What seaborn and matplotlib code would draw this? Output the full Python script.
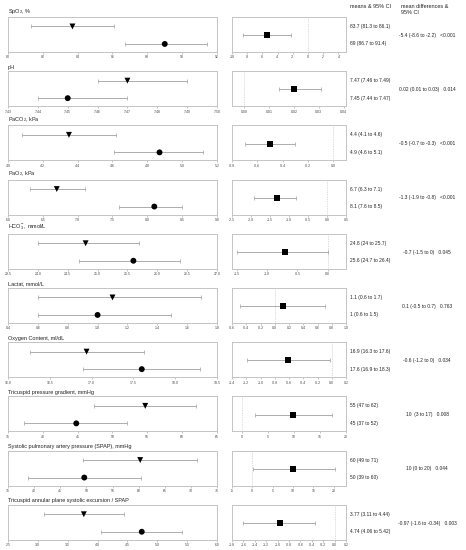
import numpy as np
import pandas as pd
import matplotlib
matplotlib.use("Agg")
import matplotlib.pyplot as plt
import seaborn as sns

titles = ["SpO$_2$, %", "pH", "PaCO$_2$, kPa", "PaO$_2$, kPa", "HCO$_3^-$, mmol/L",
          "Lactat, mmol/L", "Oxygen Content, ml/dL", "Tricuspid pressure gradient, mmHg",
          "Systolic pulmonary artery pressure (SPAP), mmHg",
          "Tricuspid annular plane systolic excursion / SPAP"]

g1_mean = [83.7, 7.47, 4.35, 6.70, 24.8, 1.10, 16.94, 54.7, 60.3, 3.77]
g1_lo = [81.3, 7.46, 4.08, 6.31, 24.0, 0.60, 16.26, 47.3, 49.3, 3.10]
g1_hi = [86.1, 7.49, 4.62, 7.10, 25.7, 1.69, 17.63, 62.0, 71.2, 4.44]
g2_mean = [89.0, 7.45, 4.87, 8.10, 25.6, 1.00, 17.60, 44.8, 49.6, 4.74]
g2_lo = [86.7, 7.44, 4.61, 7.60, 24.69, 0.60, 16.90, 37.3, 38.8, 4.05]
g2_hi = [91.4, 7.47, 5.12, 8.50, 26.38, 1.49, 18.30, 52.1, 60.4, 5.41]

d_mean = [-5.4, 0.020, -0.50, -1.32, -0.70, 0.11, -0.62, 9.9, 10.1, -0.96]
d_lo = [-8.6, 0.014, -0.70, -1.92, -1.50, -0.49, -1.19, 2.6, 0.2, -1.60]
d_hi = [-2.2, 0.031, -0.30, -0.82, 0.00, 0.71, -0.03, 17.3, 20.2, -0.34]

g1_text = ["83.7 (81.3 to 86.1)", "7.47 (7.46 to 7.49)", "4.4 (4.1 to 4.6)", "6.7 (6.3 to 7.1)",
           "24.8 (24 to 25.7)", "1.1 (0.6 to 1.7)", "16.9 (16.3 to 17.6)", "55 (47 to 62)",
           "60 (49 to 71)", "3.77 (3.11 to 4.44)"]
g2_text = ["89 (86.7 to 91.4)", "7.45 (7.44 to 7.47)", "4.9 (4.6 to 5.1)", "8.1 (7.6 to 8.5)",
           "25.6 (24.7 to 26.4)", "1 (0.6 to 1.5)", "17.6 (16.9 to 18.3)", "45 (37 to 52)",
           "50 (39 to 60)", "4.74 (4.06 to 5.42)"]
d_text = ["-5.4 (-8.6 to -2.2)", "0.02 (0.01 to 0.03)", "-0.5 (-0.7 to -0.3)", "-1.3 (-1.9 to -0.8)",
          "-0.7 (-1.5 to 0)", "0.1 (-0.5 to 0.7)", "-0.6 (-1.2 to 0)", "10  (3 to 17)",
          "10 (0 to 20)", "-0.97 (-1.6 to -0.34)"]
p_text = ["<0.001", "0.014", "<0.001", "<0.001", "0.045", "0.763", "0.034", "0.008", "0.044", "0.003"]

left_lim = [(80, 92), (7.43, 7.50), (4.0, 5.2), (6.0, 9.0), (23.5, 27.0), (0.4, 1.8),
            (16.0, 18.5), (35, 65), (35, 75), (2.5, 6.0)]
left_ticks = [(80, 92, 2), (7.43, 7.50, 0.01), (4.0, 5.2, 0.2), (6.0, 9.0, 0.5), (23.5, 27.0, 0.5),
              (0.4, 1.8, 0.2), (16.0, 18.5, 0.5), (35, 65, 5), (35, 75, 5), (2.5, 6.0, 0.5)]
left_fmt = ["%d", "%.2f", "%.1f", "%.1f", "%.1f", "%.1f", "%.1f", "%d", "%d", "%.1f"]
right_lim = [(-10, 5), (-0.005, 0.041), (-0.8, 0.1), (-2.5, 0.5), (-1.58, 0.3), (-0.6, 1.0),
             (-1.4, 0.2), (-1.9, 20), (-5, 23), (-1.8, 0.2)]
right_ticks = [(-10, 4, 2), (0.0, 0.04, 0.01), (-0.8, 0.0, 0.2), (-2.5, 0.5, 0.5), (-1.5, 0.0, 0.5),
               (-0.6, 1.0, 0.2), (-1.4, 0.2, 0.2), (0, 20, 5), (-5, 20, 5), (-1.8, 0.2, 0.2)]
right_fmt = ["%d", "%.2f", "%.1f", "%.1f", "%.1f", "%.1f", "%.1f", "%d", "%d", "%.1f"]

sns.set_theme(style="white")
plt.rcParams['font.family'] = ['Liberation Sans', 'DejaVu Sans']
plt.rcParams['mathtext.fontset'] = 'custom'
plt.rcParams['mathtext.rm'] = 'Liberation Sans'
plt.rcParams['mathtext.it'] = 'Liberation Sans:italic'

W, H = 466, 550
fig = plt.figure(figsize=(W / 100, H / 100), dpi=100)

spine_c = '#c4c4c4'
err_c = '#a0a0a0'
ylim = (-0.46, 1.54)
title_fs = 4.0
txt_fs = 3.5
tick_fs = 2.5

def fmt_ticks(spec, fmt):
    a, b, s = spec
    n = int(round((b - a) / s)) + 1
    vals = [a + i * s for i in range(n)]
    labs = []
    for v in vals:
        if fmt == "%d":
            labs.append("%d" % int(round(v)))
        else:
            labs.append(fmt % (0.0 if abs(v) < 1e-12 else v))
    return vals, labs

def style_ax(ax):
    for sp in ax.spines.values():
        sp.set_color(spine_c)
        sp.set_linewidth(0.7)
        sp.set_visible(True)
    ax.set_yticks([])
    ax.tick_params(axis='x', labelsize=tick_fs, length=1.5, width=0.4, color='#999999',
                   pad=1.0, labelcolor='#444444', bottom=True)
    ax.set_ylim(*ylim)
    ax.set_xlabel("")
    ax.set_ylabel("")
    ax.grid(False)

x0L, x1L = 8, 217
x0R, x1R = 232, 346
pitch = 54.2
box_h = 35

for i in range(10):
    top = 17 + pitch * i
    bot = top + box_h
    # left panel
    axL = fig.add_axes([x0L / W, 1 - bot / H, (x1L - x0L) / W, box_h / H])
    df = pd.DataFrame({"x": [g1_mean[i], g2_mean[i]], "y": [1, 0], "grp": ["a", "b"]})
    axL.errorbar([g1_mean[i]], [1], xerr=[[g1_mean[i] - g1_lo[i]], [g1_hi[i] - g1_mean[i]]],
                 fmt='none', ecolor=err_c, elinewidth=0.6, capsize=1.3, capthick=0.5)
    axL.errorbar([g2_mean[i]], [0], xerr=[[g2_mean[i] - g2_lo[i]], [g2_hi[i] - g2_mean[i]]],
                 fmt='none', ecolor=err_c, elinewidth=0.6, capsize=1.3, capthick=0.5)
    sns.scatterplot(data=df, x="x", y="y", style="grp", markers={"a": "v", "b": "o"},
                    color="black", s=18, linewidth=0, legend=False, ax=axL, zorder=3)
    axL.set_xlim(*left_lim[i])
    v, l = fmt_ticks(left_ticks[i], left_fmt[i])
    axL.set_xticks(v)
    axL.set_xticklabels(l)
    style_ax(axL)
    fig.text(x0L / W, 1 - (top - 1.5) / H, titles[i], fontsize=title_fs, ha='left', va='bottom',
             color='#222222')

    # right panel
    axR = fig.add_axes([x0R / W, 1 - bot / H, (x1R - x0R) / W, box_h / H])
    axR.axvline(0, color='#bbbbbb', lw=0.5, ls=(0, (1, 1.5)), zorder=1)
    axR.errorbar([d_mean[i]], [0.5], xerr=[[d_mean[i] - d_lo[i]], [d_hi[i] - d_mean[i]]],
                 fmt='none', ecolor=err_c, elinewidth=0.6, capsize=1.3, capthick=0.5)
    dfr = pd.DataFrame({"x": [d_mean[i]], "y": [0.5]})
    sns.scatterplot(data=dfr, x="x", y="y", marker="s", color="black", s=18, linewidth=0,
                    legend=False, ax=axR, zorder=3)
    axR.set_xlim(*right_lim[i])
    v, l = fmt_ticks(right_ticks[i], right_fmt[i])
    axR.set_xticks(v)
    axR.set_xticklabels(l)
    style_ax(axR)

    # text columns
    def ypix(yv):
        frac = (yv - ylim[0]) / (ylim[1] - ylim[0])
        return bot - frac * box_h
    fig.text(350 / W, 1 - ypix(1) / H, g1_text[i], fontsize=txt_fs, ha='left', va='center', color='#222222')
    fig.text(350 / W, 1 - ypix(0) / H, g2_text[i], fontsize=txt_fs, ha='left', va='center', color='#222222')
    fig.text(427 / W, 1 - ypix(0.5) / H, d_text[i] + "   " + p_text[i], fontsize=txt_fs,
             ha='center', va='center', color='#222222')

fig.text(350 / W, 1 - 7 / H, "means & 95% CI", fontsize=title_fs, ha='left', va='center', color='#222222')
fig.text(401 / W, 1 - 4.5 / H, "mean differences &\n95% CI", fontsize=title_fs, ha='left', va='top',
         color='#222222', linespacing=1.1)

fig.savefig("out.png", dpi=100)
